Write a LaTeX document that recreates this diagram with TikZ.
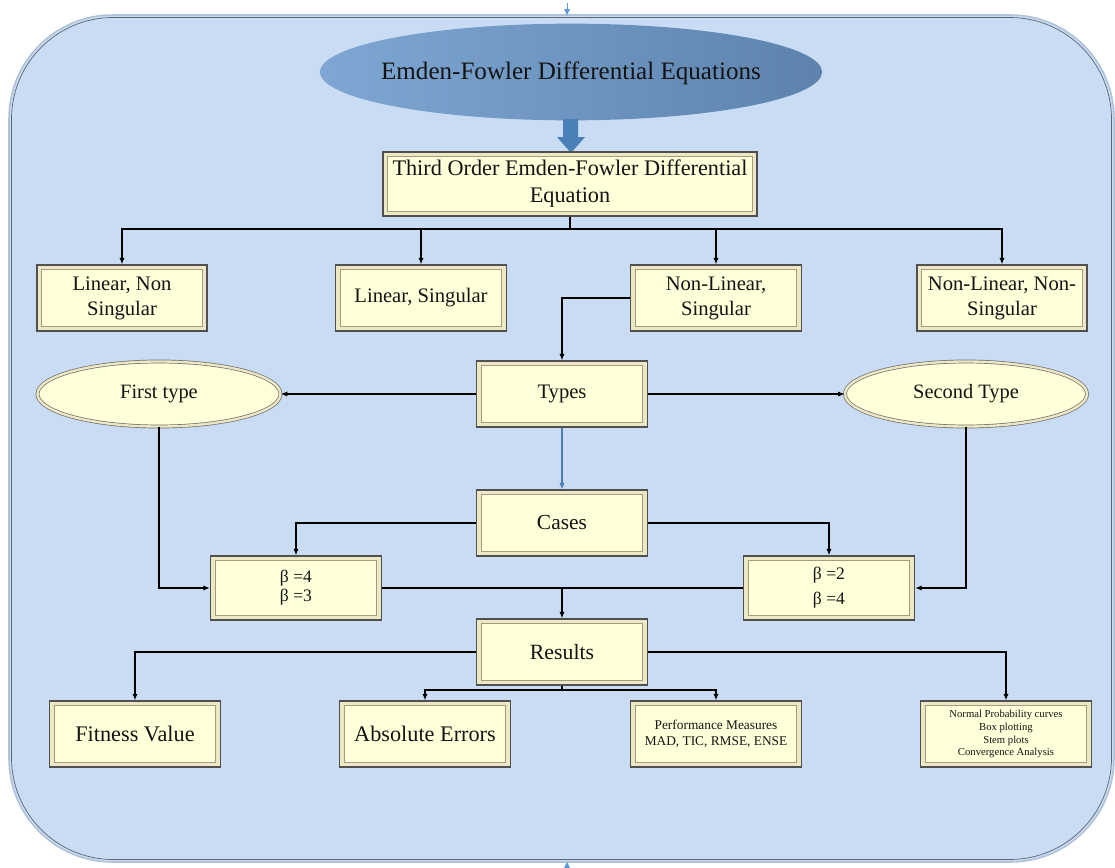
\documentclass[tikz,border=0pt]{standalone}
\usepackage{fontspec}
\setmainfont{Liberation Serif}
\usetikzlibrary{arrows.meta,shapes.geometric,calc}
\definecolor{bg}{HTML}{C9DCF4}
\definecolor{bgouter}{HTML}{AFC2D8}
\definecolor{bginner}{HTML}{5C6670}
\definecolor{boxfill}{HTML}{FFFFDA}
\definecolor{boxband}{HTML}{EDE7C4}
\definecolor{boxline}{HTML}{505050}
\definecolor{innerc}{HTML}{A39C80}
\definecolor{ellline}{HTML}{6E6E6E}
\definecolor{titleL}{HTML}{7EA7D3}
\definecolor{titleR}{HTML}{5D83AD}
\definecolor{arrowblue}{HTML}{4A7FB8}
\definecolor{linkblue}{HTML}{4A7DB5}
\definecolor{marker}{HTML}{5B9BD5}
\definecolor{txt}{HTML}{141414}
\newcommand\fs[2]{\fontsize{#1}{#2}\selectfont}
\begin{document}
\begin{tikzpicture}[x=0.03cm,y=-0.03cm,
  box/.style={draw=boxline, line width=1.1pt, fill=boxband, align=center, inner sep=0pt,
    text=txt, minimum width=5.13cm, minimum height=1.98cm,
    path picture={\draw[draw=innerc, fill=boxfill, line width=0.6pt]
      ([shift={(0.14cm,-0.14cm)}]path picture bounding box.north west) rectangle
      ([shift={(-0.14cm,0.14cm)}]path picture bounding box.south east);}},
  oval/.style={ellipse, draw=ellline, line width=0.6pt, double=boxband, double distance=2pt,
    fill=boxfill, inner sep=0pt, text=txt, minimum width=7.29cm, minimum height=1.95cm},
  line/.style={draw=black, line width=1.1pt},
  arr/.style={line, -{Latex[length=5.5pt,width=4.5pt]}},
  barr/.style={draw=linkblue, line width=0.9pt, -{Latex[length=5.5pt,width=4.5pt]}}]
\useasboundingbox (0,0) rectangle (1115,868);
% background
\draw[fill=bg, draw=bgouter, line width=1.3pt, rounded corners=3.1cm] (9,15) rectangle (1114,862);
\draw[draw=bginner, line width=0.6pt, rounded corners=3.05cm] (11.5,17.5) rectangle (1111.5,859.5);
% small markers
\draw[marker, line width=0.6pt] (567,3) -- (567,9);
\fill[marker] (564,9) -- (570,9) -- (567,15) -- cycle;
\fill[marker] (564,868) -- (570,868) -- (567,862) -- cycle;
% title
\node[ellipse, left color=titleL, right color=titleR, inner sep=0pt,
  minimum width=15.06cm, minimum height=2.9cm] (title) at (571,72) {};
\node[text=txt, inner sep=0pt, font=\fs{21.4}{24}] (titletext) at (571,73)
  {Emden-Fowler Differential Equations};
\fill[arrowblue] (563,119) -- (578,119) -- (578,137) -- (585,137) -- (571,153) -- (557,137) -- (563,137) -- cycle;
% nodes
\node[box, minimum width=11.22cm, minimum height=1.92cm, font=\fs{19}{23}] (third) at (570,184)
  {Third Order Emden-Fowler Differential\\Equation};
\node[box, minimum width=5.1cm, font=\fs{17.6}{21.3}] (lns) at (122,298) {Linear, Non\\Singular};
\node[box, font=\fs{17.6}{21.3}] (ls) at (421,298) {Linear, Singular};
\node[box, font=\fs{17.6}{21.3}] (nls) at (716,298) {Non-Linear,\\Singular};
\node[box, minimum width=5.1cm, font=\fs{17.6}{21.3}] (nlns) at (1002,298) {Non-Linear, Non-\\Singular};
\node[box, font=\fs{17.6}{21}] (types) at (562,394) {Types};
\node[oval, font=\fs{17.4}{21}] (ft) at (159,394) {First type};
\node[oval, minimum width=7.26cm, font=\fs{17.4}{21}] (st) at (966,394) {Second Type};
\node[box, font=\fs{18.3}{21}] (cases) at (562,523) {Cases};
\node[box, minimum height=1.92cm, font=\fs{15}{16.2}] (b1) at (296,588) {β =4\\β =3};
\node[box, minimum height=1.92cm, font=\fs{15}{21.3}] (b2) at (829,588) {β =2\\β =4};
\node[box, font=\fs{18.6}{21}] (results) at (562,652) {Results};
\node[box, font=\fs{19}{21}] (fit) at (135,734) {Fitness Value};
\node[box, font=\fs{19}{21}] (abs) at (425,734) {Absolute Errors};
\node[box, font=\fs{11.4}{13.6}] (perf) at (716,734) {Performance Measures\\MAD, TIC, RMSE, ENSE};
\node[box, font=\fs{9.1}{11}] (norm) at (1006,734)
  {Normal Probability curves\\Box plotting\\Stem plots\\Convergence Analysis};
% connectors
\coordinate (bus) at (570,229);
\draw[line] (third.south) -- (bus);
\draw[arr] (bus) -| (lns.north);
\draw[arr] (bus) -| (ls.north);
\draw[arr] (bus) -| (nls.north);
\draw[arr] (bus) -| (nlns.north);
\draw[arr] (nls.west) -| (types.north);
\draw[arr] (types.west) -- (ft.east);
\draw[arr] (types.east) -- (st.west);
\draw[barr] (types.south) -- (cases.north);
\draw[arr] (cases.west) -| (b1.north);
\draw[arr] (cases.east) -| (b2.north);
\draw[arr] (ft.south) |- (b1.west);
\draw[arr] (st.south) |- (b2.east);
\draw[line] (b1.east) -- (b2.west);
\draw[arr] (b1.east -| results.north) -- (results.north);
\draw[arr] (results.west) -| (fit.north);
\draw[arr] (results.east) -| (norm.north);
\coordinate (rb) at (562,690);
\draw[line] (results.south) -- (rb);
\draw[arr] (rb) -| (abs.north);
\draw[arr] (rb) -| (perf.north);
\end{tikzpicture}
\end{document}
